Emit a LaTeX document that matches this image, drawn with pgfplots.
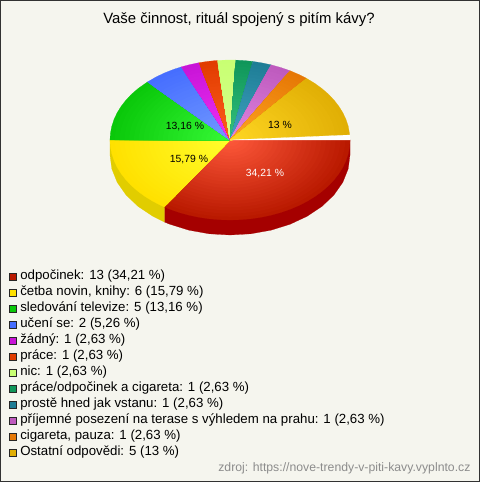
\documentclass[border=0pt]{standalone}
\usepackage{pgfplots}
\pgfplotsset{compat=1.18}
\usepackage{pgfplotstable}
\usepackage{fontspec}
\setmainfont{Liberation Sans}

\definecolor{bg}{RGB}{245,245,238}
\definecolor{framec}{RGB}{50,50,50}
% slices: edge colour / centre colour
\definecolor{redE}{RGB}{185,25,0}     \definecolor{redC}{RGB}{255,90,60}
\definecolor{yelE}{RGB}{255,225,0}    \definecolor{yelC}{RGB}{255,255,45}
\definecolor{greE}{RGB}{10,200,10}    \definecolor{greC}{RGB}{55,250,55}
\definecolor{bluE}{RGB}{70,110,255}   \definecolor{bluC}{RGB}{115,155,255}
\definecolor{magE}{RGB}{200,20,215}   \definecolor{magC}{RGB}{240,50,245}
\definecolor{oreE}{RGB}{225,60,0}     \definecolor{oreC}{RGB}{255,95,30}
\definecolor{nicE}{RGB}{200,255,115}  \definecolor{nicC}{RGB}{215,255,140}
\definecolor{grnE}{RGB}{15,150,90}    \definecolor{grnC}{RGB}{55,195,125}
\definecolor{teaE}{RGB}{30,125,150}   \definecolor{teaC}{RGB}{65,165,195}
\definecolor{purE}{RGB}{190,90,190}   \definecolor{purC}{RGB}{225,135,225}
\definecolor{oraE}{RGB}{230,120,5}    \definecolor{oraC}{RGB}{255,165,35}
\definecolor{golE}{RGB}{225,175,5}    \definecolor{golC}{RGB}{255,215,35}
\definecolor{redS}{RGB}{165,0,0}
\definecolor{yelS}{RGB}{225,205,0}

% slice outlines: angle (deg), radius
\pgfplotstableread{
a r
0 0
0 1
-5 1
-10 1
-15 1
-20 1
-25 1
-30 1
-35 1
-40 1
-45 1
-50 1
-55 1
-60 1
-65 1
-70 1
-75 1
-80 1
-85 1
-90 1
-95 1
-100 1
-105 1
-110 1
-115 1
-120 1
-123.16 1
0 0
}\tred
\pgfplotstableread{
a r
0 0
-123.16 1
-125 1
-130 1
-135 1
-140 1
-145 1
-150 1
-155 1
-160 1
-165 1
-170 1
-175 1
-180 1
0 0
}\tyel
\pgfplotstableread{
a r
0 0
-180 1
-185 1
-190 1
-195 1
-200 1
-205 1
-210 1
-215 1
-220 1
-226.5 1
0 0
}\tgre
\pgfplotstableread{
a r
0 0
-226.5 1
-232 1
-237 1
-242 1
-246 1
0 0
}\tblu
\pgfplotstableread{
a r
0 0
-246 1
-250.5 1
-255 1
0 0
}\tmag
\pgfplotstableread{
a r
0 0
-255 1
-259.5 1
-264 1
0 0
}\tore
\pgfplotstableread{
a r
0 0
-264 1
-268.5 1
-272.7 1
0 0
}\tnic
\pgfplotstableread{
a r
0 0
-272.7 1
-277 1
-281 1
0 0
}\tgrn
\pgfplotstableread{
a r
0 0
-281 1
-285.5 1
-290 1
0 0
}\ttea
\pgfplotstableread{
a r
0 0
-290 1
-295 1
-300 1
0 0
}\tpur
\pgfplotstableread{
a r
0 0
-300 1
-305 1
-309.6 1
0 0
}\tora
\pgfplotstableread{
a r
0 0
-309.6 1
-315 1
-320 1
-325 1
-330 1
-335 1
-340 1
-345 1
-350 1
-356.4 1
0 0
}\tgol
\pgfplotstableread{
a r
0 0
-356.4 1
-360 1
0 0
}\tgap

% nested copies of a slice, edge colour outside, centre colour inside
\newcommand{\pieslice}[3]{%
  \pgfplotsinvokeforeach{100,96,...,4}{%
    \addplot[forget plot,fill={#2!##1!#3},draw={#2!##1!#3},line width=0.2bp]
      table[x=a,y expr=\thisrow{r}*##1/100]{#1};
  }%
}
\newcommand{\legitem}[2]{%
  \addlegendimage{draw=black!85,fill=#1,line width=0.8bp}
  \addlegendentry{#2}
}

\begin{document}
\begin{tikzpicture}
\begin{axis}[
    scale only axis,
    width=480bp, height=482bp,
    xmin=-1.91667, xmax=2.08333,
    ymin=-4.275, ymax=1.75,
    hide axis,
    clip=false,
    no markers,
    legend cell align=left,
    legend style={
        at={(axis description cs:0.0146,0.443)},
        anchor=north west,
        draw=none, fill=none,
        inner sep=0pt, outer sep=0pt,
        row sep=0pt,
        font=\fontsize{13.25bp}{16bp}\selectfont,
        nodes={inner ysep=0pt, inner xsep=1.5bp, text height=11bp, text depth=5bp, anchor=base west},
    },
    legend image code/.code={
        \path (0bp,0bp) (11bp,0bp);
        \draw[#1] (2.2bp,-0.6bp) rectangle (9bp,6.2bp);
    },
]
\fill[bg] (rel axis cs:0,0) rectangle (rel axis cs:1,1);
\draw[framec,line width=1bp] (axis cs:-1.9125,-4.26875) rectangle (axis cs:2.07917,1.74375);

% side wall
\addplot[forget plot,fill=redS,draw=redS,line width=0.2bp] coordinates {
  (1,0) (1,-.1875) (.9848,-.3611) (.9397,-.5295) (.8660,-.6875) (.7660,-.8303)
  (.6428,-.9535) (.5,-1.0535) (.3420,-1.1272) (.1736,-1.1723) (0,-1.1875)
  (-.1736,-1.1723) (-.3420,-1.1272) (-.5,-1.0535) (-.5472,-1.0245) (-.5472,-.8370)
} -- cycle;
\addplot[forget plot,fill=yelS,draw=yelS,line width=0.2bp] coordinates {
  (-.5472,-.8370) (-.5472,-1.0245) (-.6428,-.9535) (-.7660,-.8303) (-.8660,-.6875)
  (-.9397,-.5295) (-.9848,-.3611) (-1,-.1875) (-1,0)
} -- cycle;

% top, data in polar form
\pgfplotsset{every axis plot/.append style={data cs=polar}}
\pieslice{\tred}{redE}{redC}
\pieslice{\tyel}{yelE}{yelC}
\pieslice{\tgre}{greE}{greC}
\pieslice{\tblu}{bluE}{bluC}
\pieslice{\tmag}{magE}{magC}
\pieslice{\tore}{oreE}{oreC}
\pieslice{\tnic}{nicE}{nicC}
\pieslice{\tgrn}{grnE}{grnC}
\pieslice{\ttea}{teaE}{teaC}
\pieslice{\tpur}{purE}{purC}
\pieslice{\tora}{oraE}{oraC}
\pieslice{\tgol}{golE}{golC}
\addplot[forget plot,fill=white,draw=white,line width=0.2bp] table[x=a,y=r]{\tgap};

% legend
\legitem{redE}{odpočinek: 13 (34,21 \%)}
\legitem{yelE}{četba novin, knihy: 6 (15,79 \%)}
\legitem{greE}{sledování televize: 5 (13,16 \%)}
\legitem{bluE}{učení se: 2 (5,26 \%)}
\legitem{magE}{žádný: 1 (2,63 \%)}
\legitem{oreE}{práce: 1 (2,63 \%)}
\legitem{nicE}{nic: 1 (2,63 \%)}
\legitem{grnE}{práce/odpočinek a cigareta: 1 (2,63 \%)}
\legitem{teaE}{prostě hned jak vstanu: 1 (2,63 \%)}
\legitem{purE}{příjemné posezení na terase s výhledem na prahu: 1 (2,63 \%)}
\legitem{oraE}{cigareta, pauza: 1 (2,63 \%)}
\legitem{golE}{Ostatní odpovědi: 5 (13 \%)}

% texts
\node[font=\fontsize{14.9bp}{16bp}\selectfont] at (axis cs:0.075,1.5) {Vaše činnost, rituál spojený s pitím kávy?};
\node[font=\fontsize{10.4bp}{13bp}\selectfont,text=white] at (axis cs:0.2917,-0.425) {34,21 \%};
\node[font=\fontsize{10.4bp}{13bp}\selectfont] at (axis cs:-0.3417,-0.25) {15,79 \%};
\node[font=\fontsize{10.4bp}{13bp}\selectfont] at (axis cs:-0.375,0.1625) {13,16 \%};
\node[font=\fontsize{10.4bp}{13bp}\selectfont] at (axis cs:0.4167,0.1875) {13 \%};
\node[font=\fontsize{12.25bp}{14bp}\selectfont,text=black!45,anchor=east] at (axis cs:2.033,-4.1) {zdroj: https://nove-trendy-v-piti-kavy.vyplnto.cz};
\end{axis}
\end{tikzpicture}
\end{document}
